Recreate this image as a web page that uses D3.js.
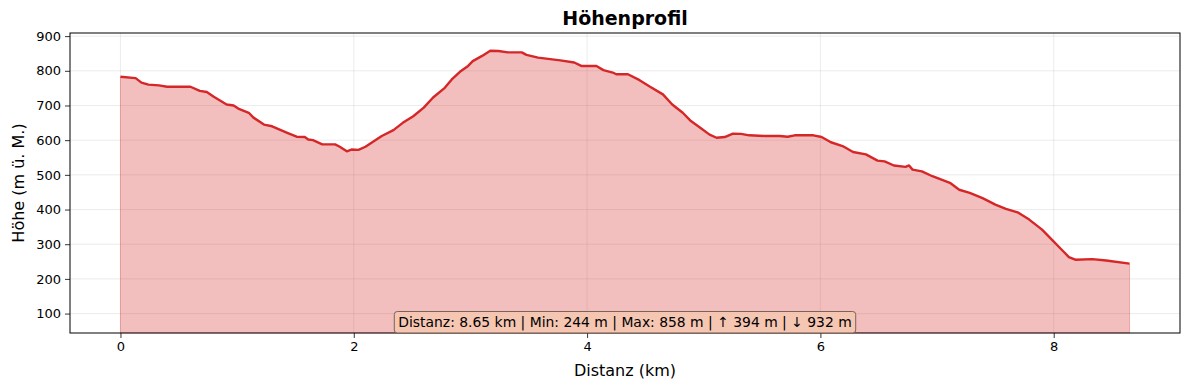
<!DOCTYPE html>
<html>
<head>
<meta charset="utf-8">
<script src="https://cdn.jsdelivr.net/npm/d3@7"></script>
<style>
  body { margin: 0; background: #fff; }
  text { font-family: "DejaVu Sans", sans-serif; fill: #000; }
</style>
</head>
<body>
<div id="chart"></div>
<script>
// profile: distance (km) and elevation (m)
var distKm = [0, 0.13, 0.18, 0.24, 0.33, 0.40, 0.60, 0.68, 0.74, 0.80, 0.91, 0.97, 1.01, 1.10, 1.14, 1.23, 1.30, 1.43, 1.51, 1.58, 1.61, 1.65, 1.73, 1.84, 1.88, 1.94, 1.98, 2.04, 2.10, 2.24, 2.34, 2.42, 2.51, 2.60, 2.68, 2.78, 2.84, 2.91, 2.98, 3.02, 3.10, 3.17, 3.24, 3.32, 3.44, 3.48, 3.58, 3.77, 3.89, 3.95, 4.08, 4.14, 4.22, 4.25, 4.35, 4.45, 4.54, 4.65, 4.73, 4.82, 4.89, 4.97, 5.05, 5.11, 5.18, 5.25, 5.32, 5.39, 5.53, 5.65, 5.72, 5.78, 5.94, 6.01, 6.09, 6.19, 6.28, 6.39, 6.49, 6.55, 6.63, 6.73, 6.76, 6.79, 6.87, 6.96, 7.11, 7.19, 7.28, 7.39, 7.50, 7.59, 7.69, 7.79, 7.90, 7.99, 8.06, 8.13, 8.19, 8.33, 8.45, 8.65];
var elevM = [783, 779, 766, 760, 758, 754, 754, 742, 739, 725, 703, 700, 691, 679, 665, 645, 640, 621, 610, 609, 602, 600, 588, 588, 581, 568, 573, 572, 581, 612, 629, 650, 669, 694, 723, 751, 775, 797, 814, 828, 843, 858, 857, 853, 853, 846, 838, 830, 824, 814, 814, 802, 795, 790, 790, 773, 754, 732, 703, 679, 655, 636, 616, 607, 609, 619, 618, 614, 612, 612, 610, 614, 614, 609, 594, 583, 566, 559, 541, 539, 527, 523, 527, 515, 510, 496, 477, 457, 448, 433, 414, 402, 392, 371, 342, 311, 287, 263, 255, 257, 253, 244];
var xTicks = [0, 2, 4, 6, 8];
var yTicks = [100, 200, 300, 400, 500, 600, 700, 800, 900];
var summaryText = "Distanz: 8.65 km | Min: 244 m | Max: 858 m | \u2191 394 m | \u2193 932 m";

var width = 1189, height = 390;
var margin = {top: 33, right: 9, bottom: 57, left: 70};
var innerW = width - margin.left - margin.right,
    innerH = height - margin.top - margin.bottom;

var svg = d3.select("#chart").append("svg")
    .attr("width", width)
    .attr("height", height);

var xPad = 8.65 * 0.05;
var x = d3.scaleLinear().domain([-xPad, 8.65 + xPad]).range([0, innerW]);
var y = d3.scaleLinear().domain([44, 909]).range([innerH, 0]);

var g = svg.append("g").attr("transform", "translate(" + margin.left + "," + margin.top + ")");

// grid
g.append("g").selectAll("line").data(xTicks).enter().append("line")
    .attr("x1", function(d) { return x(d); }).attr("x2", function(d) { return x(d); })
    .attr("y1", 0).attr("y2", innerH)
    .attr("stroke", "#b0b0b0").attr("stroke-opacity", 0.3).attr("stroke-width", 0.8);
g.append("g").selectAll("line").data(yTicks).enter().append("line")
    .attr("x1", 0).attr("x2", innerW)
    .attr("y1", function(d) { return y(d); }).attr("y2", function(d) { return y(d); })
    .attr("stroke", "#b0b0b0").attr("stroke-opacity", 0.3).attr("stroke-width", 0.8);

var pts = distKm.map(function(d, i) { return [d, elevM[i]]; });

var area = d3.area()
    .x(function(d) { return x(d[0]); })
    .y0(y(44))
    .y1(function(d) { return y(d[1]); });

g.append("path").datum(pts)
    .attr("d", area)
    .attr("fill", "#d62728").attr("fill-opacity", 0.3)
    .attr("stroke", "#d62728").attr("stroke-opacity", 0.3).attr("stroke-width", 1);

var line = d3.line()
    .x(function(d) { return x(d[0]); })
    .y(function(d) { return y(d[1]); });

g.append("path").datum(pts)
    .attr("d", line)
    .attr("fill", "none")
    .attr("stroke", "#d62728").attr("stroke-width", 2.4)
    .attr("stroke-linejoin", "round");

// axes
var xAxis = g.append("g").attr("transform", "translate(0," + innerH + ")")
    .call(d3.axisBottom(x).tickValues(xTicks).tickFormat(d3.format("d")).tickSize(5).tickPadding(4));
var yAxis = g.append("g")
    .call(d3.axisLeft(y).tickValues(yTicks).tickFormat(d3.format("d")).tickSize(5).tickPadding(4));
[xAxis, yAxis].forEach(function(a) {
    a.select(".domain").remove();
    a.selectAll("text").attr("font-size", "13px").attr("font-family", "DejaVu Sans");
    a.selectAll("line").attr("stroke", "#000").attr("stroke-width", 0.8);
});

// frame
g.append("rect").attr("width", innerW).attr("height", innerH)
    .attr("fill", "none").attr("stroke", "#000").attr("stroke-width", 1);

// summary box
var box = g.append("g");
var bt = box.append("text")
    .attr("x", innerW / 2).attr("y", innerH - 6)
    .attr("text-anchor", "middle")
    .attr("font-size", "13.9px")
    .text(summaryText);
var bb = bt.node().getBBox();
box.insert("rect", "text")
    .attr("x", bb.x - 4).attr("y", innerH - 21.5)
    .attr("width", bb.width + 8).attr("height", 21.5)
    .attr("rx", 3)
    .attr("fill", "#f5c7b0").attr("fill-opacity", 0.9)
    .attr("stroke", "#7a6458").attr("stroke-width", 1);

// labels
svg.append("text")
    .attr("x", margin.left + innerW / 2).attr("y", 25)
    .attr("text-anchor", "middle")
    .attr("font-size", "19px").attr("font-weight", "bold")
    .text("Höhenprofil");
svg.append("text")
    .attr("x", margin.left + innerW / 2).attr("y", 376)
    .attr("text-anchor", "middle")
    .attr("font-size", "16px")
    .text("Distanz (km)");
svg.append("text")
    .attr("transform", "translate(24," + (margin.top + innerH / 2) + ") rotate(-90)")
    .attr("text-anchor", "middle")
    .attr("font-size", "16px")
    .text("Höhe (m ü. M.)");
</script>
</body>
</html>
